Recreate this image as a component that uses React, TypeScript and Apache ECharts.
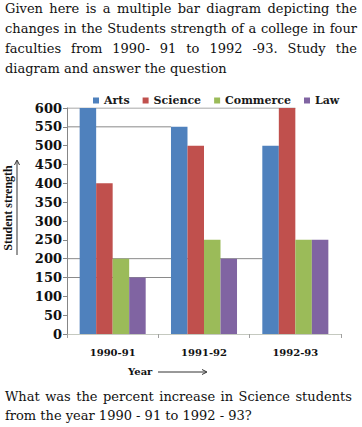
import React, { useEffect, useRef } from 'react';
import * as echarts from 'echarts';

const categories = ['1990-91', '1991-92', '1992-93'];
const seriesNames = ['Arts', 'Science', 'Commerce', 'Law'];
const arts = [600, 550, 500];
const science = [400, 500, 600];
const commerce = [200, 250, 250];
const law = [150, 200, 250];
const colors = ['#4F81BD', '#C0504D', '#9BBB59', '#8064A2'];

const yMin = 0;
const yMax = 600;
const yInterval = 50;

// horizontal reference lines: value and where they stop (in category units from the axis)
const refLineValues = [600, 550, 200, 150];
const refLineEnds = [2.5, 1.14, 2.14, 1.14];

const introLines = [
  'Given here is a multiple bar diagram depicting the',
  'changes in the Students strength of a college in four',
  'faculties from 1990- 91 to 1992 -93. Study the',
  'diagram and answer the question',
];
const questionLines = [
  'What was the percent increase in Science students',
  'from the year 1990 - 91 to 1992 - 93?',
];

const yTitle = 'Student strength';
const xTitle = 'Year';

export default function App() {
  const ref = useRef<HTMLDivElement>(null);

  useEffect(() => {
    document.body.style.margin = '0';
    if (!ref.current) return;
    const chart = echarts.init(ref.current, undefined, { renderer: 'svg' });
    const valueSets = [arts, science, commerce, law];
    const bodyFont = 'DejaVu Serif';
    const bodySize = 13;
    const boldFont = 'DejaVu Serif';

    const barSeries = seriesNames.map((name, i) => ({
      name,
      type: 'bar',
      xAxisIndex: 0,
      yAxisIndex: 0,
      data: valueSets[i],
      barGap: '0%',
      barCategoryGap: '27.7%',
      itemStyle: { color: colors[i] },
      z: 3,
    }));

    const lineSeries = refLineValues.map((v, i) => ({
      name: 'ref' + i,
      type: 'line',
      xAxisIndex: 1,
      yAxisIndex: 0,
      data: [
        [0, v],
        [refLineEnds[i], v],
      ],
      symbol: 'none',
      silent: true,
      lineStyle: { color: '#8a8a8a', width: 1 },
      z: 1,
    }));

    const canvas = document.createElement('canvas');
    const ctx = canvas.getContext('2d')!;
    ctx.font = `${bodySize}px "${bodyFont}"`;
    const spaceW = ctx.measureText(' ').width;

    const graphics: any[] = [];
    const addLine = (text: string, x: number, y: number, width: number, justify: boolean) => {
      const words = text.split(' ');
      const widths = words.map((w) => ctx.measureText(w).width);
      const total = widths.reduce((a, b) => a + b, 0);
      const gap = justify && words.length > 1 ? (width - total) / (words.length - 1) : spaceW;
      let cx = x;
      words.forEach((w, k) => {
        graphics.push({
          type: 'text',
          x: cx,
          y,
          style: {
            text: w,
            fontFamily: bodyFont,
            fontSize: bodySize,
            fill: '#111',
            align: 'left',
            verticalAlign: 'middle',
          },
        });
        cx += widths[k] + gap;
      });
    };
    introLines.forEach((t, i) => addLine(t, 5, 8 + i * 20.3, 352, i < introLines.length - 1));
    questionLines.forEach((t, i) => addLine(t, 5, 396 + i * 19, 347, i < questionLines.length - 1));

    // y axis title with arrow
    graphics.push({
      type: 'text',
      x: 8,
      y: 208,
      rotation: Math.PI / 2,
      style: {
        text: yTitle,
        fontFamily: 'Liberation Serif',
        fontWeight: 'bold',
        fontSize: 12,
        fill: '#111',
        align: 'center',
        verticalAlign: 'middle',
      },
    });
    graphics.push({
      type: 'line',
      shape: { x1: 17, y1: 255, x2: 17, y2: 161 },
      style: { stroke: '#333', lineWidth: 1 },
    });
    graphics.push({
      type: 'polyline',
      shape: { points: [[14.5, 165], [17, 160], [19.5, 165]] },
      style: { stroke: '#333', lineWidth: 1, fill: 'none' },
    });
    // x axis title with arrow
    graphics.push({
      type: 'text',
      x: 128,
      y: 371,
      style: {
        text: xTitle,
        fontFamily: boldFont,
        fontWeight: 'bold',
        fontSize: 10,
        fill: '#111',
        align: 'left',
        verticalAlign: 'middle',
      },
    });
    graphics.push({
      type: 'line',
      shape: { x1: 158, y1: 372, x2: 206, y2: 372 },
      style: { stroke: '#333', lineWidth: 1 },
    });
    graphics.push({
      type: 'polyline',
      shape: { points: [[202, 369.5], [207, 372], [202, 374.5]] },
      style: { stroke: '#333', lineWidth: 1, fill: 'none' },
    });

    chart.setOption({
      animation: false,
      backgroundColor: '#fff',
      legend: {
        data: seriesNames,
        top: 90,
        left: 88,
        itemWidth: 6,
        itemHeight: 6,
        itemGap: 13,
        icon: 'rect',
        textStyle: {
          fontFamily: boldFont,
          fontWeight: 'bold',
          fontSize: 11,
          color: '#1a1a1a',
        },
      },
      grid: { left: 67, right: 21, top: 108, bottom: 93, containLabel: false },
      xAxis: [
        {
          type: 'category',
          data: categories,
          axisLine: { lineStyle: { color: '#c5c9c0', width: 1 } },
          axisTick: { show: true, length: 4, lineStyle: { color: '#a0a0a0' } },
          axisLabel: {
            margin: 13,
            fontFamily: boldFont,
            fontWeight: 'bold',
            fontSize: 10,
            color: '#111',
          },
          splitLine: { show: false },
        },
        {
          type: 'value',
          min: 0,
          max: 3,
          show: false,
          splitLine: { show: false },
        },
      ],
      yAxis: {
        type: 'value',
        min: yMin,
        max: yMax,
        interval: yInterval,
        axisLine: { show: true, lineStyle: { color: '#868686' } },
        axisTick: { show: true, length: 4, lineStyle: { color: '#868686' } },
        axisLabel: {
          margin: 5,
          fontFamily: boldFont,
          fontWeight: 'bold',
          fontSize: 13,
          color: '#111',
        },
        splitLine: { show: false },
      },
      series: [...lineSeries, ...barSeries],
      graphic: graphics,
    });

    return () => chart.dispose();
  }, []);

  return <div ref={ref} style={{ width: 362, height: 427 }} />;
}
